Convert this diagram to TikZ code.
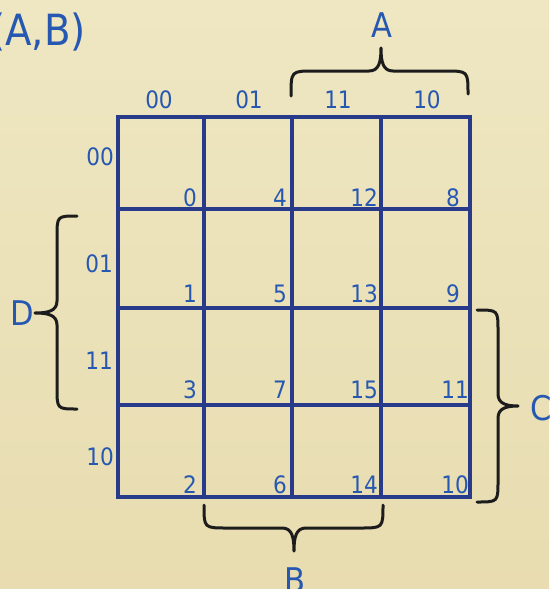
\documentclass[tikz,border=0pt]{standalone}
\usepackage{fontspec}
\IfFontExistsTF{DejaVu Sans Condensed}{\setmainfont{DejaVu Sans Condensed}}{\setmainfont{DejaVu Sans}[FakeStretch=0.88]}
\definecolor{parch}{RGB}{238,231,194}
\definecolor{parchdark}{RGB}{232,220,176}
\definecolor{gridblue}{RGB}{40,58,138}
\definecolor{txtblue}{RGB}{38,88,178}
\definecolor{braceblack}{RGB}{28,28,28}
\tikzset{
  gridline/.style={draw=gridblue, line width=3.6pt},
  bracepath/.style={draw=braceblack, line width=3pt, line cap=round, line join=round},
  lbl/.style={text=txtblue, inner sep=0pt, font=\fontsize{24}{28}\selectfont},
  cellnum/.style={lbl, anchor=base east},
  rowlbl/.style={lbl, anchor=base east},
  collbl/.style={lbl, anchor=base},
  varlbl/.style={text=txtblue, inner sep=0pt, font=\fontsize{34}{40}\selectfont},
}
\begin{document}
\begin{tikzpicture}[x=1pt,y=-1pt]
\useasboundingbox (0,0) rectangle (549,589);
\shade[top color=parch, bottom color=parchdark] (0,0) rectangle (549,589);

% grid
\draw[gridline] (118,117) rectangle (470,497);
\foreach \x in {204,292,381} \draw[gridline] (\x,117) -- (\x,497);
\foreach \y in {209,308,405} \draw[gridline] (118,\y) -- (470,\y);

% title
\node[varlbl, font=\fontsize{43}{50}\selectfont, anchor=base east] (title) at (86,45) {(A,B)};

% column labels
\node[collbl] (c00) at (159,108) {00};
\node[collbl] (c01) at (249,108) {01};
\node[collbl] (c11) at (338,108) {11};
\node[collbl] (c10) at (427,108) {10};

% row labels
\node[rowlbl] (r00) at (114,165) {00};
\node[rowlbl] (r01) at (113,272) {01};
\node[rowlbl] (r11) at (113,369) {11};
\node[rowlbl] (r10) at (114,465) {10};

% cell numbers
\node[cellnum] (m0)  at (197,206) {0};
\node[cellnum] (m4)  at (287,206) {4};
\node[cellnum] (m12) at (378,206) {12};
\node[cellnum] (m8)  at (460,206) {8};
\node[cellnum] (m1)  at (197,302) {1};
\node[cellnum] (m5)  at (287,302) {5};
\node[cellnum] (m13) at (378,302) {13};
\node[cellnum] (m9)  at (460,302) {9};
\node[cellnum] (m3)  at (197,398) {3};
\node[cellnum] (m7)  at (287,398) {7};
\node[cellnum] (m15) at (378,398) {15};
\node[cellnum] (m11) at (469,398) {11};
\node[cellnum] (m2)  at (197,493) {2};
\node[cellnum] (m6)  at (287,493) {6};
\node[cellnum] (m14) at (378,493) {14};
\node[cellnum] (m10) at (469,493) {10};

% braces
\draw[bracepath] (291,96) .. controls (291,71) .. (314,71) -- (369,71)
  .. controls (379,71) and (381,62) .. (381,48)
  .. controls (381,62) and (383,71) .. (393,71) -- (445,71)
  .. controls (468,71) .. (468,94);
\draw[bracepath] (77,216) .. controls (57,216) .. (57,237) -- (57,301)
  .. controls (57,311) and (48,313) .. (35,313)
  .. controls (48,313) and (57,315) .. (57,325) -- (57,388)
  .. controls (57,409) .. (77,409);
\draw[bracepath] (477,310) .. controls (498,310) .. (498,331) -- (498,394)
  .. controls (498,404) and (507,406) .. (518,406)
  .. controls (507,406) and (498,408) .. (498,418) -- (498,481)
  .. controls (498,502) .. (477,502);
\draw[bracepath] (204,505) .. controls (204,528) .. (227,528) -- (282,528)
  .. controls (292,528) and (294,537) .. (294,551)
  .. controls (294,537) and (296,528) .. (306,528) -- (360,528)
  .. controls (383,528) .. (383,505);

% variable letters
\node[varlbl, anchor=base] (A) at (382,37) {A};
\node[varlbl, anchor=base] (D) at (22,325) {D};
\node[varlbl, anchor=base west] (C) at (530,420) {C};
\node[varlbl, anchor=base] (B) at (295,592) {B};
\end{tikzpicture}
\end{document}
